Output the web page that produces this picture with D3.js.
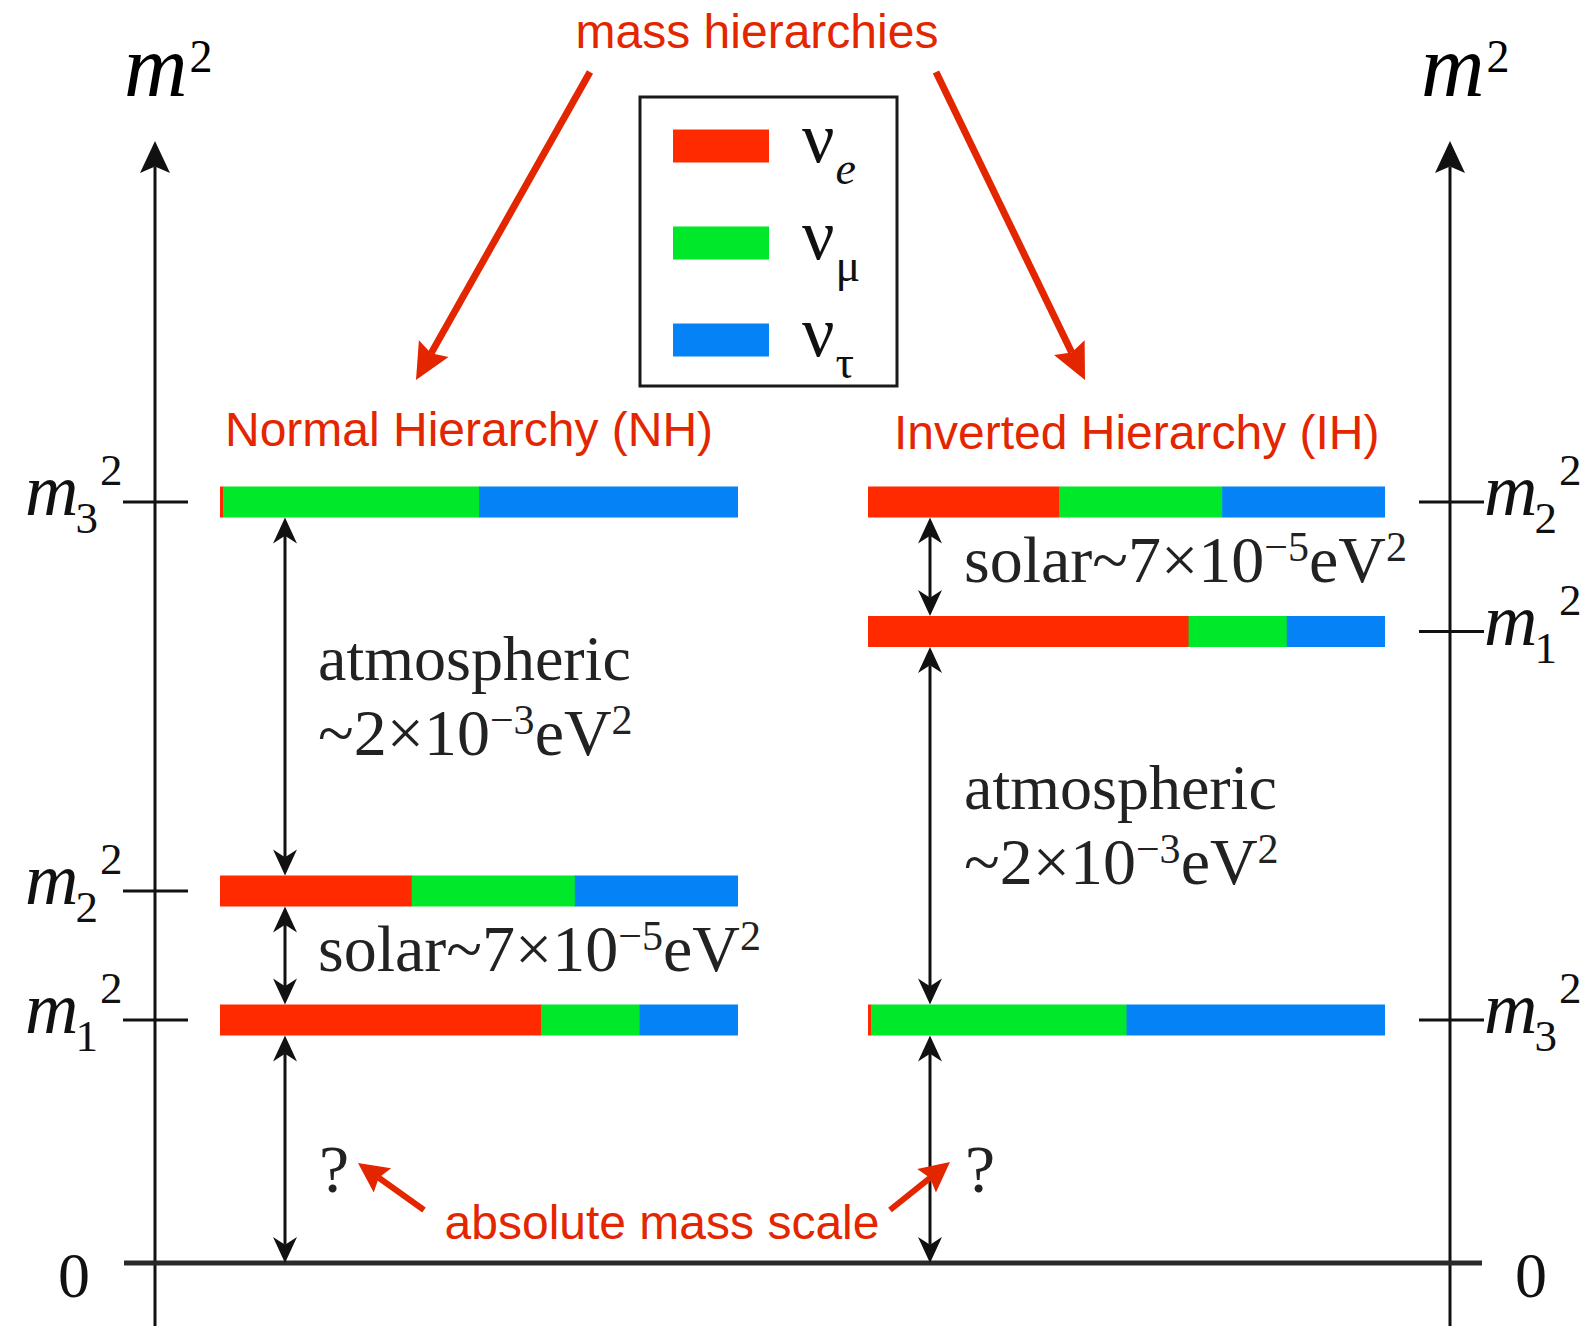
<!DOCTYPE html>
<html>
<head>
<meta charset="utf-8">
<script src="https://cdn.jsdelivr.net/npm/d3@7"></script>
<style>
  html, body { margin: 0; padding: 0; background: #fff; }
  svg { display: block; }
</style>
</head>
<body>
<svg id="chart" width="1586" height="1326"></svg>
<script>
// ---------------- DATA ----------------
const levelNames = ["m1", "m2", "m3"];
const levelSubs = ["1", "2", "3"];
// schematic m^2 positions (arbitrary diagram units)
const nhLevels = [24.3, 37.2, 76.1];   // NH: m1, m2, m3
const ihLevels = [63.15, 76.1, 24.3];  // IH: m1, m2, m3
// flavour content of each mass state (ve, vmu, vtau)
const mixM1 = [0.62, 0.19, 0.19];
const mixM2 = [0.37, 0.315, 0.315];
const mixM3 = [0.006, 0.494, 0.50];
const flavorNames = ["e", "μ", "τ"];
const flavorColors = ["#ff2a00", "#00e82a", "#0583f6"];
const hierarchyTitles = ["Normal Hierarchy (NH)", "Inverted Hierarchy (IH)"];
const topTitle = "mass hierarchies";
const bottomTitle = "absolute mass scale";

// ---------------- SETUP ----------------
const svg = d3.select("#chart");
const SERIF = "'Liberation Serif','Times New Roman',serif";
const SANS = "'Liberation Sans',Arial,sans-serif";
const RED = "#e32600";

const y = d3.scaleLinear().domain([0, 100]).range([1263, 263]);
const xNH = d3.scaleLinear().domain([0, 1]).range([220, 738]);
const xIH = d3.scaleLinear().domain([0, 1]).range([868, 1385]);
const barH = 31;
const axisLX = 155, axisRX = 1450;
const mixes = [mixM1, mixM2, mixM3];

function arrowHead(g, tx, ty, fx, fy, len, wid, notch, color) {
  const dx = tx - fx, dy = ty - fy, L = Math.hypot(dx, dy);
  const ux = dx / L, uy = dy / L, px = -uy, py = ux;
  const bx = tx - len * ux, by = ty - len * uy;
  const nx = tx - notch * len * ux, ny = ty - notch * len * uy;
  const p = d3.path();
  p.moveTo(tx, ty);
  p.lineTo(bx + px * wid / 2, by + py * wid / 2);
  p.lineTo(nx, ny);
  p.lineTo(bx - px * wid / 2, by - py * wid / 2);
  p.closePath();
  g.append("path").attr("d", p.toString()).attr("fill", color);
  return [nx, ny];
}
function arrow(g, x1, y1, x2, y2, opt) {
  const o = Object.assign({len: 26, wid: 24, notch: 0.7, sw: 3, color: "#111", both: false}, opt);
  let s = [x1, y1], e = [x2, y2];
  e = arrowHead(g, x2, y2, x1, y1, o.len, o.wid, o.notch, o.color);
  if (o.both) s = arrowHead(g, x1, y1, x2, y2, o.len, o.wid, o.notch, o.color);
  g.append("line").attr("x1", s[0]).attr("y1", s[1]).attr("x2", e[0]).attr("y2", e[1])
    .attr("stroke", o.color).attr("stroke-width", o.sw);
}

// ---------------- AXES ----------------
const gAx = svg.append("g");
[axisLX, axisRX].forEach(x => {
  arrow(gAx, x, 1326, x, 141, {len: 32, wid: 30, notch: 0.8, sw: 3});
});
// zero line
gAx.append("line").attr("x1", 124).attr("x2", 1482).attr("y1", y(0)).attr("y2", y(0))
  .attr("stroke", "#2a2a2a").attr("stroke-width", 5);
// m^2 axis titles
[[124, 96], [1421, 96]].forEach(([x, by]) => {
  const t = gAx.append("text").attr("x", x).attr("y", by)
    .attr("font-family", SERIF).attr("font-size", 88);
  t.append("tspan").attr("font-style", "italic").text("m");
  t.append("tspan").attr("font-size", 46).attr("dy", -24).attr("dx", 2).text("2");
});
// zero labels
[[74, 1297], [1531, 1297]].forEach(([x, by]) => {
  gAx.append("text").attr("x", x).attr("y", by).attr("text-anchor", "middle")
    .attr("font-family", SERIF).attr("font-size", 64).attr("fill", "#111").text("0");
});

// ---------------- LEVELS ----------------
function levelLabel(g, x, yy, sub) {
  const t = g.append("text").attr("x", x).attr("y", yy + 13)
    .attr("font-family", SERIF).attr("font-size", 74).attr("fill", "#111");
  t.append("tspan").attr("font-style", "italic").text("m");
  t.append("tspan").attr("font-size", 45).attr("dy", 18).attr("dx", -3).text(sub);
  t.append("tspan").attr("font-size", 45).attr("dy", -48).attr("dx", 2).text("2");
}
function drawHierarchy(levels, xs, side) {
  const g = svg.append("g");
  levels.forEach((v, i) => {
    const cy = y(v);
    const mix = mixes[i];
    const cum = d3.cumsum(mix);
    mix.forEach((f, k) => {
      const a = k === 0 ? 0 : cum[k - 1];
      g.append("rect").attr("x", xs(a)).attr("y", cy - barH / 2)
        .attr("width", xs(cum[k]) - xs(a) + (k < 2 ? 0.5 : 0)).attr("height", barH)
        .attr("fill", flavorColors[k]);
    });
    if (side === "L") {
      g.append("line").attr("x1", 123).attr("x2", 188).attr("y1", cy).attr("y2", cy)
        .attr("stroke", "#111").attr("stroke-width", 3);
      levelLabel(g, 25, cy, levelSubs[i]);
    } else {
      g.append("line").attr("x1", 1419).attr("x2", 1484).attr("y1", cy).attr("y2", cy)
        .attr("stroke", "#111").attr("stroke-width", 3);
      levelLabel(g, 1484, cy, levelSubs[i]);
    }
  });
  return g;
}
const gNH = drawHierarchy(nhLevels, xNH, "L");
const gIH = drawHierarchy(ihLevels, xIH, "R");

// gap arrows
function gapArrows(g, levels, ax) {
  const sorted = levels.slice().sort((a, b) => b - a); // top to bottom
  for (let i = 0; i < sorted.length - 1; i++) {
    arrow(g, ax, y(sorted[i]) + barH / 2, ax, y(sorted[i + 1]) - barH / 2, {both: true});
  }
  arrow(g, ax, y(sorted[sorted.length - 1]) + barH / 2, ax, y(0), {both: true});
}
gapArrows(gNH, nhLevels, 285);
gapArrows(gIH, ihLevels, 930);

// ---------------- SPLITTING LABELS ----------------
function supText(g, x, by, base, sup) {
  const t = g.append("text").attr("x", x).attr("y", by).attr("font-family", SERIF)
    .attr("font-size", 66).attr("fill", "#222");
  t.append("tspan").text(base);
  t.append("tspan").attr("font-size", 42).attr("dy", -21).text(sup);
  t.append("tspan").attr("dy", 21).text("eV");
  t.append("tspan").attr("font-size", 42).attr("dy", -21).text("2");
}
function atmLabel(g, x, by) {
  g.append("text").attr("x", x).attr("y", by).attr("font-family", SERIF)
    .attr("font-size", 64).attr("fill", "#222").text("atmospheric");
  supText(g, x, by + 75, "~2×10", "−3");
}
atmLabel(gNH, 318, 680);
supText(gNH, 318, 971, "solar~7×10", "−5");
atmLabel(gIH, 964, 809);
supText(gIH, 964, 582, "solar~7×10", "−5");
[[334, 1192], [980, 1192]].forEach(([x, by]) => {
  svg.append("text").attr("x", x).attr("y", by).attr("text-anchor", "middle")
    .attr("font-family", SERIF).attr("font-size", 68).attr("fill", "#222").text("?");
});

// ---------------- LEGEND ----------------
const gL = svg.append("g");
gL.append("rect").attr("x", 640).attr("y", 97).attr("width", 257).attr("height", 289)
  .attr("fill", "#fff").attr("stroke", "#1a1a1a").attr("stroke-width", 3);
const legY = d3.scaleBand().domain(flavorNames).range([97, 388]);
flavorNames.forEach((f, k) => {
  const cy = legY(f) + legY.bandwidth() / 2;
  gL.append("rect").attr("x", 673).attr("y", cy - 16).attr("width", 96).attr("height", 33)
    .attr("fill", flavorColors[k]);
  const t = gL.append("text").attr("x", 802).attr("y", cy + 16).attr("font-family", SERIF)
    .attr("font-size", 72).attr("fill", "#111");
  t.append("tspan").text("ν");
  t.append("tspan").attr("font-size", 46).attr("dy", 22).attr("dx", 1)
    .attr("font-style", k === 0 ? "italic" : "normal").text(f);
});

// ---------------- RED ANNOTATIONS ----------------
const gR = svg.append("g");
gR.append("text").attr("x", 757).attr("y", 48).attr("text-anchor", "middle")
  .attr("font-family", SANS).attr("font-size", 48).attr("fill", RED).text(topTitle);
gR.append("text").attr("x", 225).attr("y", 446).attr("font-family", SANS).attr("font-size", 48)
  .attr("fill", RED).text(hierarchyTitles[0]);
gR.append("text").attr("x", 894).attr("y", 449).attr("font-family", SANS).attr("font-size", 48)
  .attr("fill", RED).text(hierarchyTitles[1]);
gR.append("text").attr("x", 662).attr("y", 1239).attr("text-anchor", "middle")
  .attr("font-family", SANS).attr("font-size", 48).attr("fill", RED).text(bottomTitle);
const redOpt = {len: 36, wid: 34, notch: 0.85, sw: 7, color: RED};
arrow(gR, 590, 72, 416, 380, redOpt);
arrow(gR, 936, 72, 1085, 380, redOpt);
const redOpt2 = {len: 30, wid: 30, notch: 0.85, sw: 6, color: RED};
arrow(gR, 424, 1210, 358, 1163, redOpt2);
arrow(gR, 890, 1210, 950, 1162, redOpt2);
</script>
</body>
</html>
